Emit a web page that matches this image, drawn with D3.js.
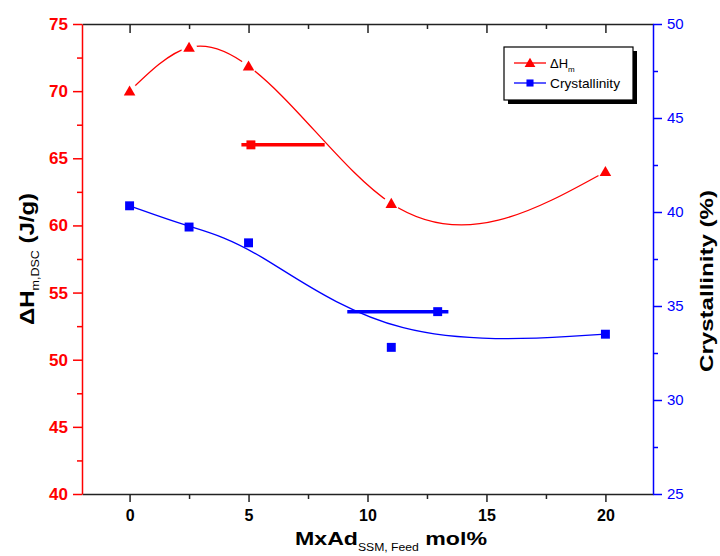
<!DOCTYPE html>
<html>
<head>
<meta charset="utf-8">
<script src="https://cdn.jsdelivr.net/npm/d3@7/dist/d3.min.js"></script>
<style>
  html, body { margin: 0; padding: 0; background: #fff; }
  svg { display: block; font-family: Arial, "Liberation Sans", sans-serif; }
</style>
</head>
<body>
<script>
// MxAd feed content (mol%)
const feedContent = [0, 2.5, 5, 11, 20];
// Melting enthalpy from DSC (J/g), left axis
const enthalpyValues = [70.0, 73.25, 71.86, 61.63, 64.0];
// Crystallinity (%), right axis
const crystallinityValues = [40.33, 39.2, 38.36, 32.8, 33.5];

// Arrows pointing each curve to its axis: [start x, end x], level, marker position
const enthalpyArrowX = [8.2, 4.7];
const enthalpyArrowLevel = 66;
const enthalpyArrowMarker = 5.1;
const crystArrowX = [9.15, 13.4];
const crystArrowLevel = 34.7;
const crystArrowMarker = 12.95;

// Axis ticks
const xTicks = [0, 5, 10, 15, 20];
const xMinorTicks = [2.5, 7.5, 12.5, 17.5];
const leftTicks = [40, 45, 50, 55, 60, 65, 70, 75];
const leftMinorTicks = [42.5, 47.5, 52.5, 57.5, 62.5, 67.5, 72.5];
const rightTicks = [25, 30, 35, 40, 45, 50];
const rightMinorTicks = [27.5, 32.5, 37.5, 42.5, 47.5];

const W = 720, H = 556;
const plot = { left: 82, right: 653, top: 24, bottom: 494 };
const RED = "#ff0000", BLUE = "#0000ff";

// Curve factory: natural cubic spline with y as a function of x,
// each piece emitted as an exact cubic Bézier segment.
function curveNaturalX(context) {
  return {
    areaStart() {}, areaEnd() {},
    lineStart() { this._x = []; this._y = []; },
    point(px, py) { this._x.push(+px); this._y.push(+py); },
    lineEnd() {
      const X = this._x, Y = this._y, n = X.length;
      if (!n) return;
      context.moveTo(X[0], Y[0]);
      if (n < 3) { for (let i = 1; i < n; i++) context.lineTo(X[i], Y[i]); return; }
      const h = [], d = [];
      for (let i = 0; i < n - 1; i++) { h[i] = X[i + 1] - X[i]; d[i] = (Y[i + 1] - Y[i]) / h[i]; }
      // tridiagonal system for second derivatives (natural ends)
      const M = new Array(n).fill(0);
      const a = [], b = [], c = [], r = [];
      for (let i = 1; i < n - 1; i++) {
        a.push(h[i - 1]); b.push(2 * (h[i - 1] + h[i])); c.push(h[i]); r.push(6 * (d[i] - d[i - 1]));
      }
      const m = b.length;
      for (let i = 1; i < m; i++) {
        const w = a[i] / b[i - 1];
        b[i] -= w * c[i - 1]; r[i] -= w * r[i - 1];
      }
      const sol = new Array(m);
      sol[m - 1] = r[m - 1] / b[m - 1];
      for (let i = m - 2; i >= 0; i--) sol[i] = (r[i] - c[i] * sol[i + 1]) / b[i];
      for (let i = 0; i < m; i++) M[i + 1] = sol[i];
      for (let i = 0; i < n - 1; i++) {
        const s0 = d[i] - h[i] * (2 * M[i] + M[i + 1]) / 6;
        const s1 = d[i] + h[i] * (M[i] + 2 * M[i + 1]) / 6;
        context.bezierCurveTo(
          X[i] + h[i] / 3, Y[i] + s0 * h[i] / 3,
          X[i + 1] - h[i] / 3, Y[i + 1] - s1 * h[i] / 3,
          X[i + 1], Y[i + 1]);
      }
    }
  };
}

const svg = d3.select("body").append("svg").attr("width", W).attr("height", H);

const x = d3.scaleLinear().domain([-2, 22]).range([plot.left, plot.right]);
const yL = d3.scaleLinear().domain([40, 75]).range([plot.bottom, plot.top]);
const yR = d3.scaleLinear().domain([25, 50]).range([plot.bottom, plot.top]);

function styleAxis(g, color, width) {
  g.select(".domain").attr("stroke", color).attr("stroke-width", width);
  g.selectAll(".tick line").attr("stroke", color).attr("stroke-width", width);
  g.selectAll(".tick text").attr("fill", color);
}

// Top axis (ticks pointing inward)
const gTop = svg.append("g").attr("transform", `translate(0,${plot.top})`)
  .call(d3.axisTop(x).tickValues(xTicks).tickSize(-9).tickSizeOuter(0).tickFormat(""));
styleAxis(gTop, "#222", 1.5);
const gTopMinor = svg.append("g").attr("transform", `translate(0,${plot.top})`)
  .call(d3.axisTop(x).tickValues(xMinorTicks).tickSize(-5).tickSizeOuter(0).tickFormat(""));
styleAxis(gTopMinor, "#222", 1.5);
gTopMinor.select(".domain").remove();

// Bottom axis
const gBottom = svg.append("g").attr("transform", `translate(0,${plot.bottom})`)
  .call(d3.axisBottom(x).tickValues(xTicks).tickSize(8).tickPadding(8).tickSizeOuter(0));
styleAxis(gBottom, "#222", 1.5);
gBottom.selectAll(".tick text").attr("font-size", 16).attr("font-weight", "bold")
  .attr("font-family", "Arial, 'Liberation Sans', sans-serif").attr("fill", "#000");
const gBottomMinor = svg.append("g").attr("transform", `translate(0,${plot.bottom})`)
  .call(d3.axisBottom(x).tickValues(xMinorTicks).tickSize(5).tickSizeOuter(0).tickFormat(""));
styleAxis(gBottomMinor, "#222", 1.5);
gBottomMinor.select(".domain").remove();

// Left axis (enthalpy, red)
const gLeft = svg.append("g").attr("transform", `translate(${plot.left},0)`)
  .call(d3.axisLeft(yL).tickValues(leftTicks).tickSize(9).tickPadding(5).tickSizeOuter(0));
styleAxis(gLeft, RED, 1.5);
gLeft.selectAll(".tick text").attr("font-size", 17).attr("font-weight", "bold")
  .attr("font-family", "Arial, 'Liberation Sans', sans-serif");
const gLeftMinor = svg.append("g").attr("transform", `translate(${plot.left},0)`)
  .call(d3.axisLeft(yL).tickValues(leftMinorTicks).tickSize(5).tickSizeOuter(0).tickFormat(""));
styleAxis(gLeftMinor, RED, 1.5);
gLeftMinor.select(".domain").remove();

// Right axis (crystallinity, blue)
const gRight = svg.append("g").attr("transform", `translate(${plot.right},0)`)
  .call(d3.axisRight(yR).tickValues(rightTicks).tickSize(9).tickPadding(5).tickSizeOuter(0));
styleAxis(gRight, BLUE, 1.5);
gRight.selectAll(".tick text").attr("font-size", 15)
  .attr("font-family", "Arial, 'Liberation Sans', sans-serif");
const gRightMinor = svg.append("g").attr("transform", `translate(${plot.right},0)`)
  .call(d3.axisRight(yR).tickValues(rightMinorTicks).tickSize(5).tickSizeOuter(0).tickFormat(""));
styleAxis(gRightMinor, BLUE, 1.5);
gRightMinor.select(".domain").remove();

// Data pairs
const enthalpyData = feedContent.map((c, i) => ({ c, v: enthalpyValues[i] }));
const crystData = feedContent.map((c, i) => ({ c, v: crystallinityValues[i] }));

// Smoothed curves
svg.append("path").datum(enthalpyData)
  .attr("fill", "none").attr("stroke", RED).attr("stroke-width", 1.3)
  .attr("d", d3.line().x(d => x(d.c)).y(d => yL(d.v)).curve(curveNaturalX));
svg.append("path").datum(crystData)
  .attr("fill", "none").attr("stroke", BLUE).attr("stroke-width", 1.3)
  .attr("d", d3.line().x(d => x(d.c)).y(d => yR(d.v)).curve(d3.curveBasis));

// Gaps in the enthalpy curve around its symbols
svg.append("g").selectAll("circle").data(enthalpyData).join("circle")
  .attr("cx", d => x(d.c)).attr("cy", d => yL(d.v)).attr("r", 8).attr("fill", "#fff");

const tri = d3.symbol().type(d3.symbolTriangle).size(58);
const sq = d3.symbol().type(d3.symbolSquare).size(80);

svg.append("g").selectAll("path").data(enthalpyData).join("path")
  .attr("transform", d => `translate(${x(d.c)},${yL(d.v) + 1})`)
  .attr("d", tri).attr("fill", RED);
svg.append("g").selectAll("path").data(crystData).join("path")
  .attr("transform", d => `translate(${x(d.c)},${yR(d.v)})`)
  .attr("d", sq).attr("fill", BLUE);

// Arrows to the axes
svg.append("line")
  .attr("x1", x(enthalpyArrowX[0])).attr("x2", x(enthalpyArrowX[1]))
  .attr("y1", yL(enthalpyArrowLevel)).attr("y2", yL(enthalpyArrowLevel))
  .attr("stroke", RED).attr("stroke-width", 3.5);
svg.append("path")
  .attr("transform", `translate(${x(enthalpyArrowMarker)},${yL(enthalpyArrowLevel)})`)
  .attr("d", sq).attr("fill", RED);
svg.append("line")
  .attr("x1", x(crystArrowX[0])).attr("x2", x(crystArrowX[1]))
  .attr("y1", yR(crystArrowLevel)).attr("y2", yR(crystArrowLevel))
  .attr("stroke", BLUE).attr("stroke-width", 3.5);
svg.append("path")
  .attr("transform", `translate(${x(crystArrowMarker)},${yR(crystArrowLevel)})`)
  .attr("d", sq).attr("fill", BLUE);

// Axis titles
const xTitle = svg.append("text")
  .attr("x", 295).attr("y", 545)
  .attr("textLength", 192).attr("lengthAdjust", "spacingAndGlyphs")
  .attr("font-weight", "bold").attr("font-size", 19).attr("fill", "#000");
xTitle.append("tspan").text("MxAd");
xTitle.append("tspan").attr("font-size", 10).attr("font-weight", "normal").attr("dy", 6).text("SSM, Feed");
xTitle.append("tspan").attr("dy", -6).text(" mol%");

const yLTitle = svg.append("text")
  .attr("transform", `translate(34,${(plot.top + plot.bottom) / 2 + 66}) rotate(-90)`)
  .attr("textLength", 132).attr("lengthAdjust", "spacingAndGlyphs")
  .attr("font-weight", "bold").attr("font-size", 21).attr("fill", "#000");
yLTitle.append("tspan").text("ΔH");
yLTitle.append("tspan").attr("font-size", 11).attr("font-weight", "normal").attr("dy", 5).text("m,DSC");
yLTitle.append("tspan").attr("dy", -5).text(" (J/g)");

svg.append("text")
  .attr("transform", "translate(713,372) rotate(-90)")
  .attr("textLength", 182).attr("lengthAdjust", "spacingAndGlyphs")
  .attr("font-weight", "bold").attr("font-size", 19).attr("fill", "#000")
  .text("Crystallinity (%)");

// Legend
const lg = svg.append("g").attr("transform", "translate(504,47)");
lg.append("rect").attr("x", 4).attr("y", 4).attr("width", 129).attr("height", 53).attr("fill", "#000");
lg.append("rect").attr("x", 0).attr("y", 0).attr("width", 129).attr("height", 53)
  .attr("fill", "#fff").attr("stroke", "#000").attr("stroke-width", 1.2);
const legendItems = [
  { color: RED, type: d3.symbolTriangle, label: "ΔH", sub: "m", dyMark: 1 },
  { color: BLUE, type: d3.symbolSquare, label: "Crystallinity", sub: "", dyMark: 0 }
];
legendItems.forEach((it, i) => {
  const yy = 16 + i * 20;
  lg.append("line").attr("x1", 10).attr("x2", 42).attr("y1", yy).attr("y2", yy)
    .attr("stroke", it.color).attr("stroke-width", 1.3);
  lg.append("path").attr("transform", `translate(26,${yy + it.dyMark})`)
    .attr("d", d3.symbol().type(it.type).size(50)())
    .attr("fill", it.color);
  const t = lg.append("text").attr("x", 46).attr("y", yy + 5)
    .attr("font-size", 13).attr("fill", "#000");
  t.append("tspan").text(it.label);
  if (it.sub) t.append("tspan").attr("font-size", 8).attr("dy", 4).text(it.sub);
  if (i === 1) t.attr("textLength", 70).attr("lengthAdjust", "spacingAndGlyphs");
});
</script>
</body>
</html>
